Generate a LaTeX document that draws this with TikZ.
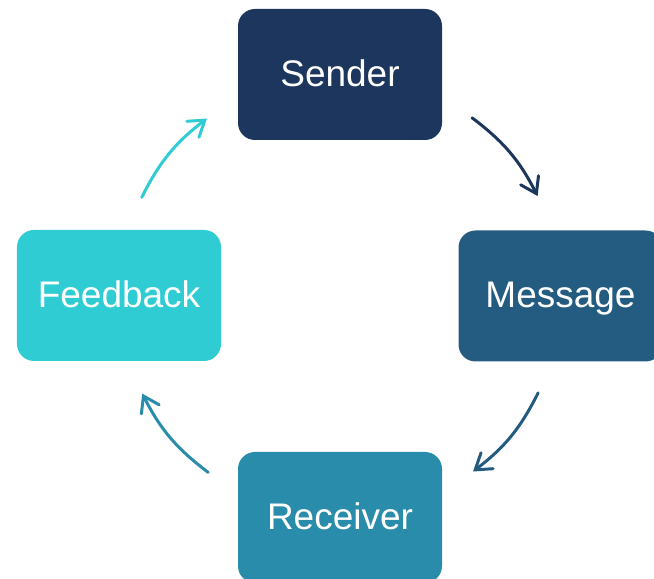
\documentclass[tikz,border=0pt]{standalone}
\usepackage{fontspec}
\setmainfont{Liberation Sans}
\usepackage{tikz}
\usetikzlibrary{arrows.meta,calc}
\usepackage{xcolor}

\definecolor{sendercol}{HTML}{1C365D}
\definecolor{messagecol}{HTML}{245C81}
\definecolor{receivercol}{HTML}{2A8CAB}
\definecolor{feedbackcol}{HTML}{2FCDD3}

\begin{document}
\begin{tikzpicture}[x=1bp, y=1bp,
    stage/.style={rounded corners=17bp, minimum width=204bp, minimum height=131bp,
      inner sep=0pt, text height=29bp, text depth=5bp, text=white,
      font=\fontsize{37bp}{44bp}\selectfont},
    cycle arrow/.style={line width=3bp, line cap=round,
      -{Straight Barb[length=15bp, width=20bp, line cap=round]}}]
  \clip (0,0) rectangle (654,579);

  \node[stage, fill=sendercol]   (sender)   at (340,504.5) {Sender};
  \node[stage, fill=messagecol]  (message)  at (560.5,283) {Message};
  \node[stage, fill=receivercol] (receiver) at (340,61.5)  {Receiver};
  \node[stage, fill=feedbackcol] (feedback) at (119,283.5) {Feedback};

  % arrow ends sit on one circle round the middle
  \coordinate (hub) at (340,284);
  \foreach \n/\a in {sm1/53.3, sm2/26.6, mr1/-26.3, mr2/-53, rf1/233.4, rf2/206.5, fs1/153.8, fs2/127}
    \coordinate (\n) at ($(hub)+(\a:221)$);

  \draw[cycle arrow, sendercol]   (sm1) to[bend left=13] (sm2);
  \draw[cycle arrow, messagecol]  (mr1) to[bend left=13] (mr2);
  \draw[cycle arrow, receivercol] (rf1) to[bend left=13] (rf2);
  \draw[cycle arrow, feedbackcol] (fs1) to[bend left=13] (fs2);
\end{tikzpicture}
\end{document}
